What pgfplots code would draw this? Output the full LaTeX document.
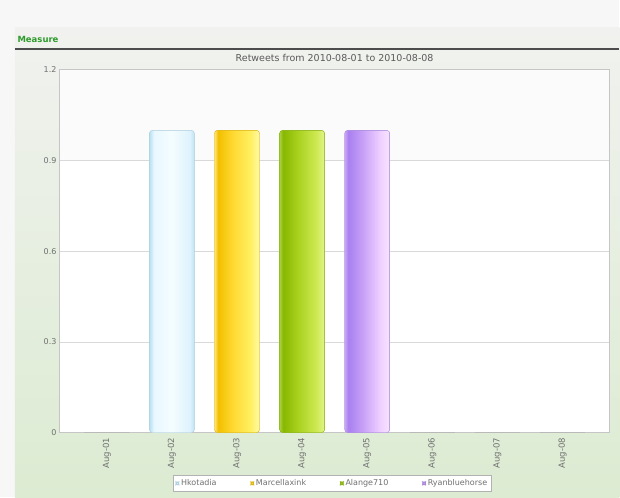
\documentclass[border=0pt]{standalone}
\usepackage{fontspec}
\setmainfont{DejaVu Sans}
\usepackage{pgfplots}
\pgfplotsset{compat=1.18}
\definecolor{txt}{HTML}{707070}
\definecolor{mgreen}{HTML}{2E9A2E}
\definecolor{panelTop}{HTML}{F1F2EF}
\definecolor{panelBot}{HTML}{DCEBD2}
\definecolor{cyanA}{HTML}{BFE6F5}
\definecolor{yelA}{HTML}{F2C200}
\definecolor{grnA}{HTML}{8CBE00}
\definecolor{purA}{HTML}{B58BF0}
\pgfdeclarehorizontalshading{barC}{100bp}{rgb(0bp)=(0.72,0.88,0.95); rgb(25bp)=(0.72,0.88,0.95); rgb(30bp)=(0.91,0.97,1); rgb(50bp)=(0.96,0.99,1); rgb(70bp)=(0.87,0.95,0.99); rgb(75bp)=(0.75,0.89,0.95); rgb(100bp)=(0.75,0.89,0.95)}
\pgfdeclarehorizontalshading{barY}{100bp}{rgb(0bp)=(1,0.9,0.5); rgb(25bp)=(1,0.9,0.5); rgb(29bp)=(0.95,0.75,0); rgb(45bp)=(1,0.85,0.19); rgb(65bp)=(1,0.94,0.38); rgb(75bp)=(1,0.98,0.66); rgb(100bp)=(1,0.98,0.66)}
\pgfdeclarehorizontalshading{barG}{100bp}{rgb(0bp)=(0.66,0.82,0.25); rgb(25bp)=(0.66,0.82,0.25); rgb(29bp)=(0.53,0.72,0); rgb(45bp)=(0.66,0.82,0.12); rgb(65bp)=(0.8,0.91,0.31); rgb(75bp)=(0.88,0.96,0.53); rgb(100bp)=(0.88,0.96,0.53)}
\pgfdeclarehorizontalshading{barP}{100bp}{rgb(0bp)=(0.78,0.66,0.96); rgb(25bp)=(0.78,0.66,0.96); rgb(29bp)=(0.66,0.5,0.94); rgb(45bp)=(0.78,0.63,0.97); rgb(65bp)=(0.94,0.82,1); rgb(75bp)=(0.97,0.89,1); rgb(100bp)=(0.97,0.89,1)}
\begin{document}
\begin{tikzpicture}[x=1pt,y=1pt]
\fill[white!94!gray] (0,0) rectangle (620,498);
\shade[top color=panelTop, bottom color=panelBot] (15,0) rectangle (620,470);
\node[anchor=west, font=\bfseries\fontsize{8.5}{10}\selectfont, text=mgreen] at (14,458) {Measure};
\draw[line width=1.3pt, gray!60!black] (15,449) -- (620,449);
\node[font=\fontsize{9.5}{11}\selectfont, text=txt!80!black] at (335,440) {Retweets from 2010-08-01 to 2010-08-08};
\begin{axis}[
  at={(60pt,65pt)}, anchor=south west,
  scale only axis, width=550pt, height=363pt,
  xmin=-0.72, xmax=7.72, ymin=0, ymax=1.2,
  xtick={0,...,7},
  xticklabels={Aug-01,Aug-02,Aug-03,Aug-04,Aug-05,Aug-06,Aug-07,Aug-08},
  ytick={0,0.3,0.6,0.9,1.2},
  yticklabels={0,0.3,0.6,0.9,1.2},
  x tick label style={rotate=90, anchor=east, font=\fontsize{8.5}{9}\selectfont, text=txt, xshift=-2pt},
  y tick label style={font=\fontsize{8}{9}\selectfont, text=txt},
  /pgf/number format/assume math mode=true,
  major tick length=0pt,
  ymajorgrids, grid style={gray!30, line width=0.6pt},
  axis line style={gray!45, line width=0.9pt},
  axis background/.style={fill=white},
  legend columns=4,
  legend style={at={(0.496,-0.140)}, anchor=center, draw=gray!60, fill=white,
    font=\fontsize{8}{9}\selectfont, text=txt, inner sep=2.5pt,
    /tikz/every even column/.append style={column sep=32pt}},
  legend image code/.code={\fill[#1] (0pt,-1.5pt) rectangle (3pt,1.5pt);},
]
\fill[gray!3] (rel axis cs:0,0.75) rectangle (rel axis cs:1,1);
\draw[gray!30, line width=0.6pt] (rel axis cs:0,0.75) -- (rel axis cs:1,0.75);
\addplot[ybar, bar shift=0pt, bar width=45pt, draw=gray!55, line width=1pt, forget plot]
  coordinates {(0,0) (5,0) (6,0) (7,0)};
\addplot[ybar, bar shift=0pt, bar width=45pt, draw=cyanA!80!gray, fill=cyanA, shade, shading=barC, rounded corners=3pt]
  coordinates {(1,1)};
\addlegendentry{Hkotadia}
\addplot[ybar, bar shift=0pt, bar width=45pt, draw=yelA!80!gray, fill=yelA, shade, shading=barY, rounded corners=3pt]
  coordinates {(2,1)};
\addlegendentry{Marcellaxink}
\addplot[ybar, bar shift=0pt, bar width=45pt, draw=grnA!80!gray, fill=grnA, shade, shading=barG, rounded corners=3pt]
  coordinates {(3,1)};
\addlegendentry{Alange710}
\addplot[ybar, bar shift=0pt, bar width=45pt, draw=purA!80!gray, fill=purA, shade, shading=barP, rounded corners=3pt]
  coordinates {(4,1)};
\addlegendentry{Ryanbluehorse}
\end{axis}
\end{tikzpicture}
\end{document}
